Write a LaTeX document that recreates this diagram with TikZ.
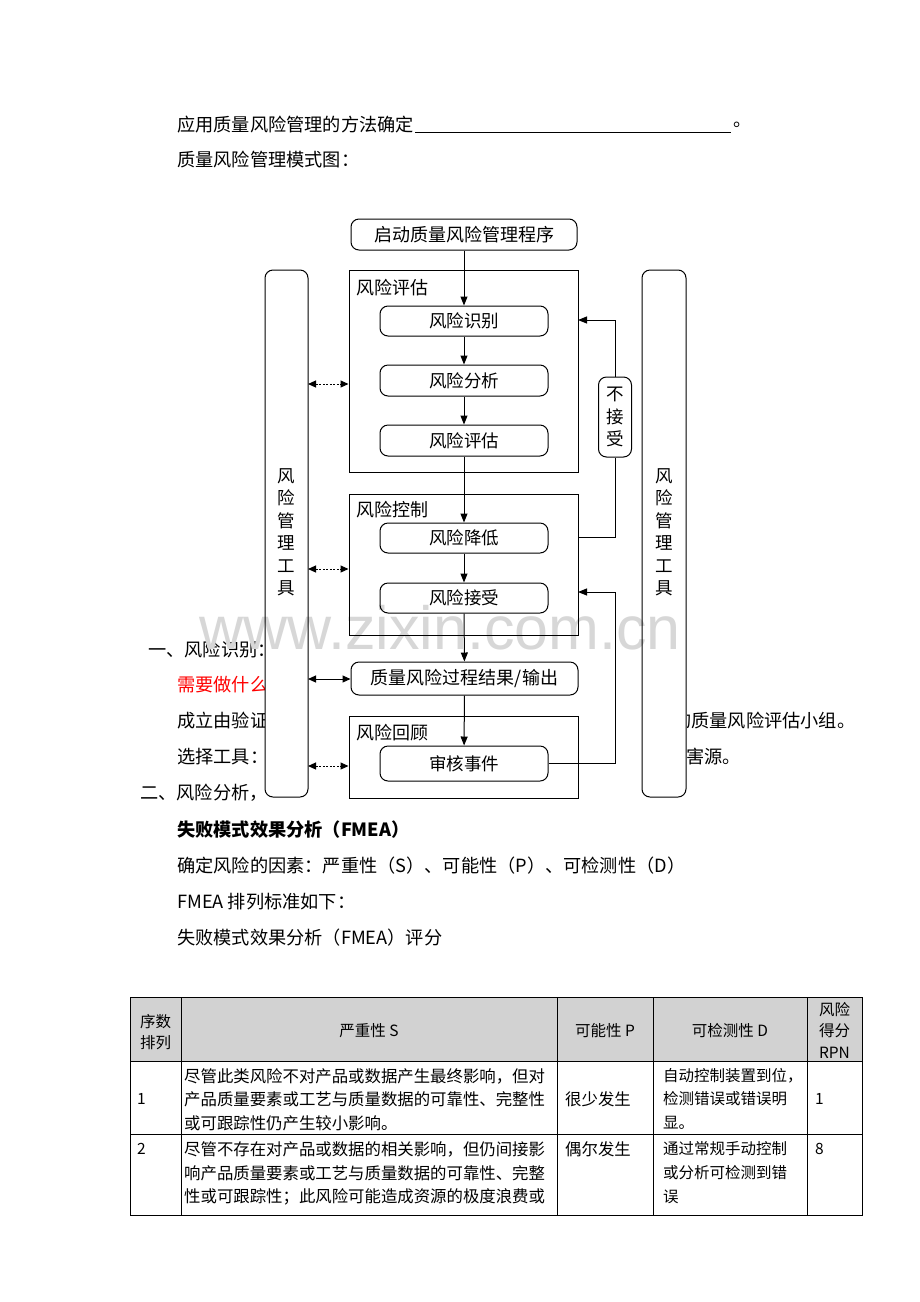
\documentclass[tikz,border=0pt]{standalone}
\usepackage{fontspec}
\setmainfont{Noto Sans CJK SC}
\newfontfamily\wmfont{Liberation Sans}
\usetikzlibrary{arrows.meta}
\definecolor{wm}{RGB}{215,215,215}
\definecolor{hdr}{RGB}{210,210,210}
\tikzset{
  doc/.style={anchor=west, inner sep=0pt, font=\fontsize{18.2}{20}\selectfont},
  tcell/.style={anchor=west, inner sep=0pt, font=\fontsize{16.4}{18}\selectfont},
  tcelld/.style={anchor=west, inner sep=0pt, font=\fontsize{15.5}{18}\selectfont},
  tcen/.style={anchor=center, inner sep=0pt, align=center, font=\fontsize{15.5}{21.5}\selectfont},
  rbox/.style={draw, line width=1pt, rounded corners=8pt, inner sep=0pt, font=\fontsize{17.5}{20}\selectfont},
  grp/.style={draw, line width=1pt, inner sep=0pt},
  glabel/.style={anchor=west, inner sep=0pt, font=\fontsize{18}{20}\selectfont},
  vtext/.style={align=center, inner sep=0pt, font=\fontsize{17.5}{22.5}\selectfont},
  arr/.style={line width=1pt, -{Triangle[length=9pt,width=7pt]}},
  darr/.style={line width=1pt, dash pattern=on 2pt off 1.5pt, {Triangle[length=8pt,width=7pt]}-{Triangle[length=8pt,width=7pt]}},
  sarr/.style={line width=1pt, {Triangle[length=8pt,width=7pt]}-{Triangle[length=8pt,width=7pt]}},
}
\begin{document}
\begin{tikzpicture}[x=1pt,y=-1pt]
\useasboundingbox (0,0) rectangle (920,1302);
\fill[white] (0,0) rectangle (920,1302);

% ---------- document text ----------
\node[doc] (t1) at (177,125) {应用质量风险管理的方法确定};
\draw[line width=0.9pt] (415,132) -- (731,132);
\node[doc] (t1b) at (733,125) {。};
\node[doc] (t2) at (177,160) {质量风险管理模式图：};

\node[doc] (t3) at (148,650) {一、风险识别：};
\node[doc, text=red] (t4) at (177,685) {需要做什么};
\node[doc] (t5) at (177,721) {成立由验证};
\node[doc] (t5b) at (673,721) {的质量风险评估小组。};
\node[doc] (t6) at (177,757) {选择工具：};
\node[doc] (t6b) at (668,757) {危害源。};
\node[doc] (t7) at (140,793) {二、风险分析，};

\node[doc, font=\bfseries\fontsize{18.2}{20}\selectfont] (t8) at (177,830) {失败模式效果分析（FMEA）};
\node[doc] (t9) at (177,866) {确定风险的因素：严重性（S）、可能性（P）、可检测性（D）};
\node[doc] (t10) at (177,902) {FMEA 排列标准如下：};
\node[doc] (t11) at (177,938) {失败模式效果分析（FMEA）评分};

% ---------- diagram canvas ----------
\fill[white] (265,205) rectangle (687,798.5);
\node[inner sep=0pt, text=wm, font=\wmfont\fontsize{61}{61}\selectfont] (wmk) at (440,628) {www.zixin.com.cn};

\node[rbox, minimum width=226pt, minimum height=31pt, font=\fontsize{18}{20}\selectfont] (start) at (464,234.5) {启动质量风险管理程序};
\node[grp, minimum width=229pt, minimum height=202pt] (g1) at (463.5,371) {};
\node[glabel] at (356,288) {风险评估};
\node[rbox, minimum width=168pt, minimum height=30pt] (r1) at (464,321) {风险识别};
\node[rbox, minimum width=168pt, minimum height=31pt] (r2) at (464,380.5) {风险分析};
\node[rbox, minimum width=168pt, minimum height=31pt] (r3) at (464,440.5) {风险评估};

\node[grp, minimum width=229pt, minimum height=141pt] (g2) at (463.5,564.5) {};
\node[glabel] at (356,510) {风险控制};
\node[rbox, minimum width=168pt, minimum height=30pt] (r4) at (464,538) {风险降低};
\node[rbox, minimum width=168pt, minimum height=30pt] (r5) at (464,598) {风险接受};

\node[rbox, minimum width=227pt, minimum height=33pt, font=\fontsize{18}{20}\selectfont] (out) at (464.5,678.5) {质量风险过程结果/输出};

\node[grp, minimum width=229pt, minimum height=82pt] (g3) at (463.5,757) {};
\node[glabel] at (356,733) {风险回顾};
\node[rbox, minimum width=168pt, minimum height=35pt] (r6) at (464,763.5) {审核事件};

\node[rbox, minimum width=43pt, minimum height=527pt] (lt) at (286.5,533.5) {};
\node[vtext] at (286.5,532.5) {风\\险\\管\\理\\工\\具};
\node[rbox, minimum width=44pt, minimum height=527pt] (rt) at (664,533.5) {};
\node[vtext] at (664,532.5) {风\\险\\管\\理\\工\\具};

\node[rbox, minimum width=33pt, minimum height=80pt, font=\fontsize{17.5}{22.5}\selectfont, align=center] (nac) at (615,417) {不\\接\\受};

% main flow
\draw[arr] (start) -- (r1);
\draw[arr] (r1) -- (r2);
\draw[arr] (r2) -- (r3);
\draw[arr] (r3) -- (r4);
\draw[arr] (r4) -- (r5);
\draw[arr] (r5) -- (out);
\draw[arr] (out) -- (r6);

% feedback loops
\coordinate (fbin1) at (578,320);
\coordinate (fbout1) at (578,537);
\draw[line width=1pt] (fbout1) -| (nac.south);
\draw[arr] (nac.north) |- (fbin1);
\coordinate (fbin2) at (578,592);
\draw[arr] (r6.east) -| (nac.center |- fbin2) -- (fbin2);

% tool arrows
\coordinate (d1) at (308,384);
\coordinate (d2) at (308,569);
\coordinate (d3) at (308,679);
\coordinate (d4) at (308,766);
\draw[darr] (d1) -- (d1 -| g1.west);
\draw[darr] (d2) -- (d2 -| g2.west);
\draw[sarr] (d3) -- (d3 -| out.west);
\draw[darr] (d4) -- (d4 -| g3.west);

% ---------- table ----------
\fill[hdr] (130,997) rectangle (862,1061);
\draw[line width=0.8pt] (130,997) rectangle (862,1215);
\draw[line width=0.8pt] (130,1061) -- (862,1061);
\draw[line width=0.8pt] (130,1134) -- (862,1134);
\foreach \cx in {181,557,653,807} \draw[line width=0.8pt] (\cx,997) -- (\cx,1215);

\node[tcen] (h1) at (155.5,1032) {序数\\排列};
\node[tcen] (h2) at (369,1031) {严重性 S};
\node[tcen] (h3) at (605,1031) {可能性 P};
\node[tcen] (h4) at (730,1031) {可检测性 D};
\node[tcen] (h5) at (834.5,1030) {风险\\得分\\RPN};

\node[tcelld] (a1) at (137,1099) {1};
\node[tcell] at (184,1076) {尽管此类风险不对产品或数据产生最终影响，但对};
\node[tcell] at (184,1099) {产品质量要素或工艺与质量数据的可靠性、完整性};
\node[tcell] at (184,1123) {或可跟踪性仍产生较小影响。};
\node[tcell] at (565,1099) {很少发生};
\node[tcelld] at (663,1076) {自动控制装置到位，};
\node[tcelld] at (663,1099) {检测错误或错误明};
\node[tcelld] at (663,1123) {显。};
\node[tcelld] at (815,1099) {1};

\node[tcelld] (a2) at (137,1149) {2};
\node[tcell] at (184,1149) {尽管不存在对产品或数据的相关影响，但仍间接影};
\node[tcell] at (184,1173) {响产品质量要素或工艺与质量数据的可靠性、完整};
\node[tcell] at (184,1197) {性或可跟踪性；此风险可能造成资源的极度浪费或};
\node[tcell] at (565,1149) {偶尔发生};
\node[tcelld] at (663,1149) {通过常规手动控制};
\node[tcelld] at (663,1173) {或分析可检测到错};
\node[tcelld] at (663,1197) {误};
\node[tcelld] at (815,1149) {8};
\end{tikzpicture}
\end{document}
